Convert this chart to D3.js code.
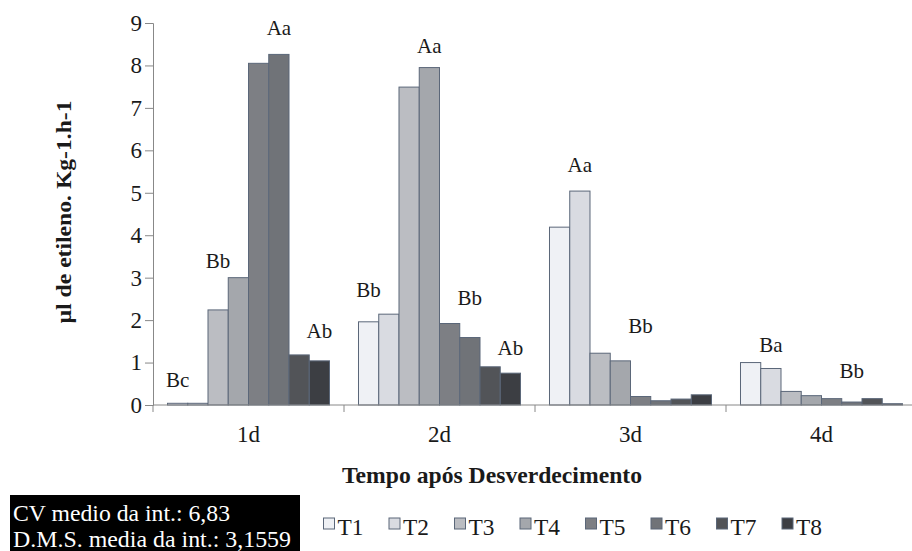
<!DOCTYPE html>
<html>
<head>
<meta charset="utf-8">
<script src="https://cdn.jsdelivr.net/npm/d3@7"></script>
<style>
  html, body { margin: 0; padding: 0; background: #ffffff; }
  svg { display: block; }
</style>
</head>
<body>
<svg id="chart" width="912" height="551"></svg>
<script>
// ---- data ----
const categories = ["1d", "2d", "3d", "4d"];
const seriesNames = ["T1", "T2", "T3", "T4", "T5", "T6", "T7", "T8"];
const T1 = [0.04, 1.96, 4.19, 1.00];
const T2 = [0.04, 2.14, 5.04, 0.86];
const T3 = [2.24, 7.49, 1.22, 0.32];
const T4 = [3.00, 7.95, 1.04, 0.22];
const T5 = [8.05, 1.92, 0.20, 0.15];
const T6 = [8.26, 1.59, 0.10, 0.07];
const T7 = [1.18, 0.90, 0.14, 0.15];
const T8 = [1.04, 0.75, 0.24, 0.03];
const yTicks = [0, 1, 2, 3, 4, 5, 6, 7, 8, 9];
// letter annotations: category, bar it sits over, text, height (axis units)
const labelCats   = ["1d", "1d", "1d", "1d", "2d", "2d", "2d", "2d", "3d", "3d", "4d", "4d"];
const labelSeries = ["T1", "T3", "T6", "T8", "T1", "T4", "T6", "T8", "T2", "T5", "T2", "T6"];
const labelTexts  = ["Bc", "Bb", "Aa", "Ab", "Bb", "Aa", "Bb", "Ab", "Aa", "Bb", "Ba", "Bb"];
const labelLevels = [0.42, 3.23, 8.72, 1.58, 2.54, 8.29, 2.36, 1.18, 5.49, 1.70, 1.25, 0.64];
const yTitle = "µl de etileno. Kg-1.h-1";
const xTitle = "Tempo após Desverdecimento";
const noteLines = ["CV medio da int.: 6,83", "D.M.S. media da int.: 3,1559"];

const seriesValues = [T1, T2, T3, T4, T5, T6, T7, T8];
const colors = ["#eff1f5", "#d9dbe1", "#bbbdc2", "#a4a7ac", "#7d7f84", "#707378", "#525458", "#3c3e43"];
const strokeCol = "#5b6779";
const FONT = "'Liberation Serif', 'Times New Roman', serif";

// ---- scales ----
const svg = d3.select("#chart");
const x = d3.scaleBand().domain(categories).range([153, 917]).paddingInner(0).paddingOuter(0);
const xInner = d3.scaleBand().domain(seriesNames).range([0, x.bandwidth()]).paddingInner(0).paddingOuter(0.716);
const y = d3.scaleLinear().domain([0, 9]).range([405, 23]);

// ---- bars ----
const rows = [];
seriesNames.forEach((s, si) => {
  categories.forEach((c, ci) => rows.push({ s, si, c, v: seriesValues[si][ci] }));
});
svg.append("g").selectAll("rect").data(rows).join("rect")
  .attr("x", d => x(d.c) + xInner(d.s))
  .attr("y", d => y(d.v))
  .attr("width", xInner.bandwidth())
  .attr("height", d => y(0) - y(d.v))
  .attr("fill", d => colors[d.si])
  .attr("stroke", strokeCol)
  .attr("stroke-width", 1);

// ---- y axis ----
const axisCol = "#888888";
const yAxis = svg.append("g").attr("transform", "translate(153,0)")
  .call(d3.axisLeft(y).tickValues(yTicks).tickSize(8).tickPadding(3).tickFormat(d3.format("d")));
yAxis.attr("font-family", null).attr("font-size", null);
yAxis.select(".domain").attr("stroke", axisCol);
yAxis.selectAll(".tick line").attr("stroke", axisCol);
yAxis.selectAll(".tick text").attr("font-size", 23).attr("fill", "#1a1a1a")
  .style("font-family", FONT);

// ---- x axis ----
const xg = svg.append("g");
xg.append("line").attr("x1", 153).attr("x2", 912).attr("y1", y(0)).attr("y2", y(0))
  .attr("stroke", axisCol);
const bounds = categories.map(c => x(c)).concat([x.range()[1]]);
xg.selectAll("line.tk").data(bounds).join("line").attr("class", "tk")
  .attr("x1", d => d).attr("x2", d => d).attr("y1", y(0)).attr("y2", y(0) + 7)
  .attr("stroke", axisCol);
xg.selectAll("text").data(categories).join("text")
  .attr("x", d => x(d) + x.bandwidth() / 2).attr("y", 442)
  .attr("text-anchor", "middle").attr("font-size", 23).attr("fill", "#1a1a1a")
  .style("font-family", FONT)
  .text(d => d);

// ---- letter labels ----
svg.append("g").selectAll("text").data(labelTexts).join("text")
  .attr("x", (d, i) => x(labelCats[i]) + xInner(labelSeries[i]) + xInner.bandwidth() / 2)
  .attr("y", (d, i) => y(labelLevels[i]))
  .attr("text-anchor", "middle").attr("font-size", 21).attr("fill", "#1a1a1a")
  .style("font-family", FONT)
  .text(d => d);

// ---- titles ----
svg.append("text").attr("x", 492).attr("y", 483).attr("text-anchor", "middle")
  .attr("font-size", 24).attr("font-weight", "bold").attr("fill", "#1a1a1a")
  .style("font-family", FONT)
  .attr("textLength", 300).attr("lengthAdjust", "spacingAndGlyphs")
  .text(xTitle);
svg.append("text").attr("transform", "translate(71,212) rotate(-90)")
  .attr("text-anchor", "middle").attr("font-size", 20).attr("font-weight", "bold").attr("fill", "#1a1a1a")
  .style("font-family", FONT)
  .attr("textLength", 223).attr("lengthAdjust", "spacingAndGlyphs")
  .text(yTitle);

// ---- note box ----
svg.append("rect").attr("x", 10).attr("y", 495).attr("width", 290).attr("height", 60).attr("fill", "#000");
const noteWidths = [217, 278];
svg.append("g").selectAll("text").data(noteLines).join("text")
  .attr("x", 13).attr("y", (d, i) => 521 + i * 26)
  .attr("font-size", 23).attr("fill", "#ffffff")
  .style("font-family", FONT)
  .attr("textLength", (d, i) => noteWidths[i]).attr("lengthAdjust", "spacingAndGlyphs")
  .text(d => d);

// ---- legend ----
const leg = svg.append("g").selectAll("g").data(seriesNames).join("g")
  .attr("transform", (d, i) => `translate(${323.5 + i * 65.5},518)`);
leg.append("rect").attr("width", 11).attr("height", 11)
  .attr("fill", (d, i) => colors[i]).attr("stroke", strokeCol).attr("stroke-width", 1);
leg.append("text").attr("x", 14).attr("y", 17).attr("font-size", 24).attr("fill", "#1a1a1a")
  .style("font-family", FONT)
  .attr("textLength", 26).attr("lengthAdjust", "spacingAndGlyphs")
  .text(d => d);
</script>
</body>
</html>
